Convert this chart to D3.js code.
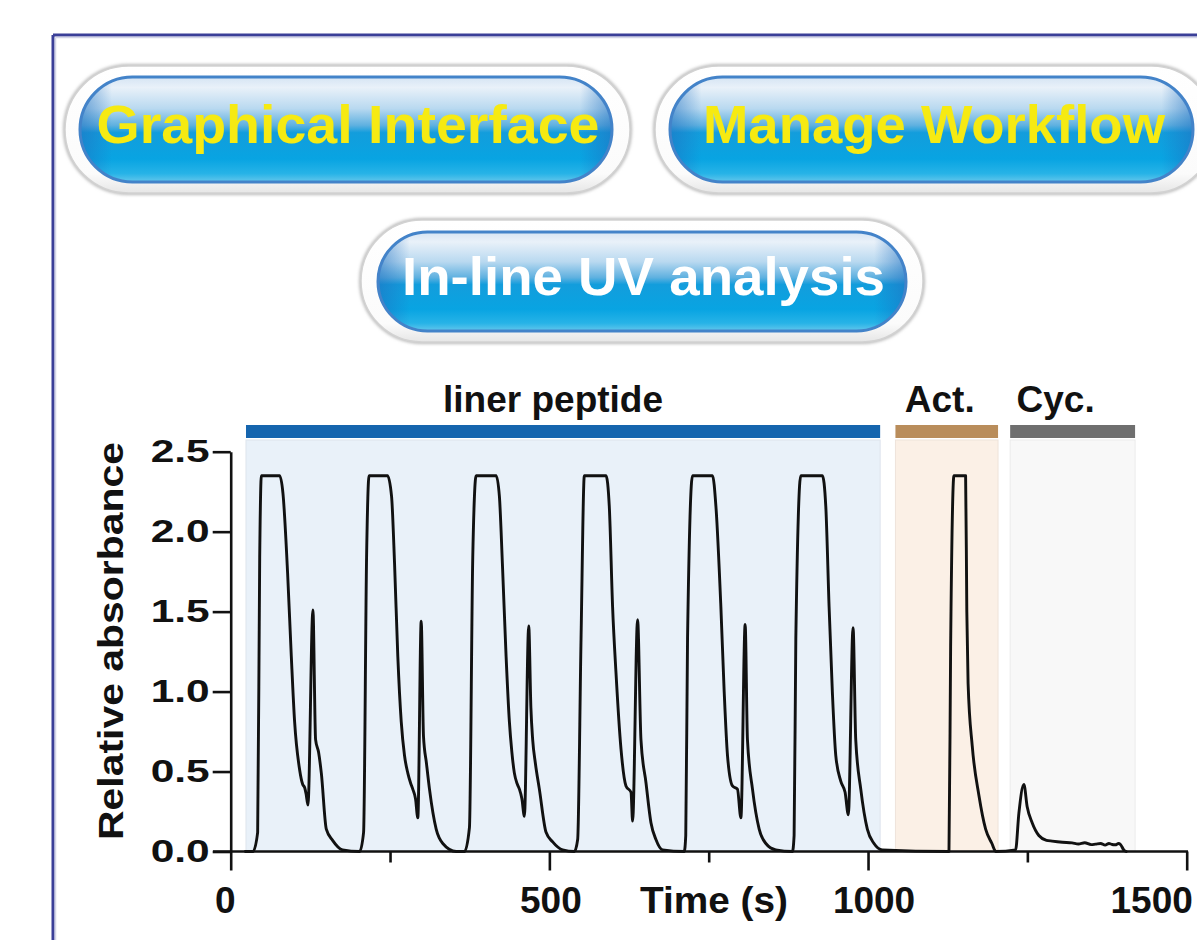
<!DOCTYPE html>
<html><head><meta charset="utf-8">
<script src="https://cdn.jsdelivr.net/npm/d3@7"></script>
<style>html,body{margin:0;padding:0;background:#fff;} svg{display:block;}</style>
</head><body>
<svg id="chart" width="1197" height="940"></svg>
<script>
// ---------------- data ----------------
const buttonLabels = ["Graphical Interface", "Manage Workflow", "In-line UV analysis"];
const buttonTextColors = ["#f6ea12", "#f6ea12", "#ffffff"];

const phaseNames = ["liner peptide", "Act.", "Cyc."];
const phaseStart = [24, 1043, 1223];     // s
const phaseEnd   = [1019, 1204, 1419];   // s
const phaseBarColors  = ["#1565ae", "#b98d5b", "#6f6f6f"];
const phaseFillColors = ["#e9f1f9", "#fbf0e6", "#f8f8f8"];

const xTicksMajor = [0, 500, 1000, 1500];
const xTicksMinor = [250, 750, 1250];
const yTicks = [0, 0.5, 1.0, 1.5, 2.0, 2.5];
const xTitle = "Time (s)";
const yTitle = "Relative absorbance";

// UV trace: time (s) and relative absorbance
const traceTime = [
  23,
  35, 42.3, 45.5, 48.1, 76.8, 82, 89.3, 95.1, 100.3, 108.2, 112.9, 116, 118.3, 121.2, 129, 133.2, 137.9, 142.2, 150, 159.9, 175.5,
  202.2, 208.5, 213.2, 217.1, 246.1, 252.4, 257.1, 262.2, 267.6, 272.7, 277.9, 282.1, 285.7, 290, 293.6, 298.9, 302.5, 307.2, 311.9, 322.4, 332.8, 353.8,
  366.8, 374.6, 379.8, 385.1, 416.5, 421.6, 426.3, 432.1, 437.3, 441.2, 445.1, 449.8, 453, 456.9, 460.8, 467.6, 471, 473.8, 478.1, 484.3, 494.8, 505.2, 520.8,
  539.2, 544.4, 549.7, 554.9, 588.9, 594, 599.2, 604.5, 612.4, 620.2, 628.1, 630.6, 638.4, 643.7, 651.6, 659.4, 667.2, 677.6,
  711.6, 714, 716.8, 724.6, 756, 761.3, 769.1, 774.3, 779.5, 787.3, 795.1, 800.5, 807.2, 810.8, 818.7, 829.2, 839.7, 855.3,
  881.4, 884, 886.7, 894.5, 928.4, 933.7, 938.9, 944, 949.4, 957.2, 964, 969.1, 976.5, 980.7, 988.6, 998.9, 1009.4, 1022.4,
  1127, 1129.6, 1134.8, 1153.1, 1155, 1157, 1163.5, 1174, 1184.5, 1194.4, 1200.6,
  1231.5, 1236.7, 1244.5, 1249.7, 1257.5, 1268, 1280, 1288.9, 1305, 1320.2, 1330, 1340, 1350, 1356.9, 1365, 1372, 1378, 1382.9, 1388, 1393, 1396.1, 1401.3, 1405
];
const traceAbs = [
  0,
  0, 0.12, 1.84, 2.35, 2.35, 2.24, 1.74, 1.22, 0.81, 0.51, 0.42, 0.40, 0.36, 0.29, 1.51, 0.70, 0.62, 0.49, 0.14, 0.07, 0.01,
  0, 0.12, 1.84, 2.35, 2.35, 2.22, 1.80, 1.22, 0.81, 0.60, 0.49, 0.43, 0.39, 0.33, 0.21, 1.44, 0.72, 0.55, 0.39, 0.14, 0.05, 0,
  0, 0.15, 1.84, 2.35, 2.35, 2.22, 1.80, 1.22, 0.81, 0.62, 0.49, 0.42, 0.39, 0.33, 0.22, 1.41, 0.90, 0.70, 0.55, 0.39, 0.12, 0.06, 0.01,
  0, 0.075, 1.33, 2.35, 2.35, 2.16, 1.53, 1.12, 0.64, 0.41, 0.37, 0.19, 1.45, 0.70, 0.43, 0.18, 0.075, 0.01,
  0, 0.1, 1.33, 2.35, 2.35, 2.16, 1.53, 1.00, 0.60, 0.41, 0.39, 0.21, 1.42, 0.70, 0.39, 0.14, 0.05, 0.01,
  0, 0.1, 1.33, 2.35, 2.35, 2.16, 1.53, 1.00, 0.60, 0.44, 0.37, 0.23, 1.40, 0.70, 0.39, 0.14, 0.05, 0.01,
  0, 1.28, 2.35, 2.35, 1.5, 1.05, 0.66, 0.35, 0.14, 0.05, 0,
  0.01, 0.24, 0.42, 0.28, 0.18, 0.10, 0.07, 0.065, 0.058, 0.054, 0.047, 0.055, 0.043, 0.046, 0.05, 0.04, 0.05, 0.044, 0.042, 0.05, 0.044, 0.01, 0
];

// ---------------- layout / style ----------------
const FONT = "'Liberation Sans', Arial, Helvetica, sans-serif";
const svg = d3.select("#chart");
const defs = svg.append("defs");

const x = d3.scaleLinear().domain([0, 1500]).range([230.7, 1186.7]);
const y = d3.scaleLinear().domain([0, 2.5]).range([851.5, 451.7]);

// frame
svg.append("line").attr("x1", 53).attr("y1", 35).attr("x2", 1197).attr("y2", 35)
  .attr("stroke", "#3b3f98").attr("stroke-width", 3);
svg.append("line").attr("x1", 53).attr("y1", 35).attr("x2", 53).attr("y2", 940)
  .attr("stroke", "#3b3f98").attr("stroke-width", 3);
svg.append("line").attr("x1", 55.5).attr("y1", 37.5).attr("x2", 1197).attr("y2", 37.5)
  .attr("stroke", "#d4d5e8").attr("stroke-width", 1.5);
svg.append("line").attr("x1", 55.5).attr("y1", 37.5).attr("x2", 55.5).attr("y2", 940)
  .attr("stroke", "#d4d5e8").attr("stroke-width", 1.5);

// button gradients
const g1 = defs.append("linearGradient").attr("id", "btnFill").attr("x1", 0).attr("y1", 0).attr("x2", 0).attr("y2", 1);
[[0, "#d5e4f3"], [0.1, "#e9f1f9"], [0.3, "#b9d9f0"], [0.46, "#5fb1e0"], [0.53, "#139ddc"],
 [0.78, "#08a4e2"], [0.92, "#27b3e7"], [1, "#63c7ec"]].forEach(s =>
  g1.append("stop").attr("offset", s[0]).attr("stop-color", s[1]));
const g2 = defs.append("linearGradient").attr("id", "btnSide").attr("x1", 0).attr("y1", 0).attr("x2", 1).attr("y2", 0);
[[0, "#1f6fc0", 0.55], [0.06, "#1f6fc0", 0], [0.94, "#1f6fc0", 0], [1, "#1f6fc0", 0.55]].forEach(s =>
  g2.append("stop").attr("offset", s[0]).attr("stop-color", s[1]).attr("stop-opacity", s[2]));
const g3 = defs.append("linearGradient").attr("id", "ringFill").attr("x1", 0).attr("y1", 0).attr("x2", 0).attr("y2", 1);
[[0, "#ffffff"], [0.85, "#fbfbfb"], [1, "#e6e6e6"]].forEach(s =>
  g3.append("stop").attr("offset", s[0]).attr("stop-color", s[1]));
const blur = defs.append("filter").attr("id", "soft").attr("x", -0.05).attr("y", -0.2).attr("width", 1.1).attr("height", 1.4);
blur.append("feGaussianBlur").attr("stdDeviation", 1.6);

const buttonBoxes = [
  {ox: 65, oy: 66, ow: 565, oh: 127, ix: 80, iy: 77, iw: 532, ih: 105, tx: 348, ty: 143, tl: 503},
  {ox: 655, oy: 66, ow: 560, oh: 127, ix: 670, iy: 77, iw: 523, ih: 105, tx: 934, ty: 143, tl: 462},
  {ox: 361, oy: 220, ow: 562, oh: 122, ix: 378, iy: 232, iw: 528, ih: 99, tx: 643.5, ty: 295, tl: 483}
];
buttonLabels.forEach((lab, i) => {
  const b = buttonBoxes[i];
  const g = svg.append("g");
  g.append("rect").attr("x", b.ox).attr("y", b.oy).attr("width", b.ow).attr("height", b.oh)
    .attr("rx", b.oh / 2).attr("fill", "none").attr("stroke", "#bdbdbd").attr("stroke-width", 4)
    .attr("filter", "url(#soft)");
  g.append("rect").attr("x", b.ox).attr("y", b.oy).attr("width", b.ow).attr("height", b.oh)
    .attr("rx", b.oh / 2).attr("fill", "url(#ringFill)").attr("stroke", "#d2d2d2").attr("stroke-width", 1.5);
  g.append("rect").attr("x", b.ix).attr("y", b.iy).attr("width", b.iw).attr("height", b.ih)
    .attr("rx", b.ih / 2).attr("fill", "url(#btnFill)");
  g.append("rect").attr("x", b.ix).attr("y", b.iy).attr("width", b.iw).attr("height", b.ih)
    .attr("rx", b.ih / 2).attr("fill", "url(#btnSide)").attr("stroke", "#4383c9").attr("stroke-width", 3);
  g.append("text").attr("x", b.tx).attr("y", b.ty).attr("text-anchor", "middle")
    .attr("font-family", FONT).attr("font-weight", "bold").attr("font-size", 53)
    .attr("textLength", b.tl).attr("lengthAdjust", "spacingAndGlyphs")
    .attr("fill", buttonTextColors[i]).text(lab);
});

// phase regions, bars, labels
const phaseLabelDx = [-10, -7, -17];
phaseNames.forEach((name, i) => {
  svg.append("rect").attr("x", x(phaseStart[i])).attr("y", 440)
    .attr("width", x(phaseEnd[i]) - x(phaseStart[i])).attr("height", y(0) - 440)
    .attr("fill", phaseFillColors[i]).attr("stroke", d3.color(phaseFillColors[i]).darker(0.15)).attr("stroke-width", 1);
  svg.append("rect").attr("x", x(phaseStart[i])).attr("y", 425)
    .attr("width", x(phaseEnd[i]) - x(phaseStart[i])).attr("height", 13)
    .attr("fill", phaseBarColors[i]);
  svg.append("text").attr("x", (x(phaseStart[i]) + x(phaseEnd[i])) / 2 + phaseLabelDx[i]).attr("y", 412)
    .attr("text-anchor", "middle").attr("font-family", FONT).attr("font-weight", "bold")
    .attr("font-size", 37).attr("fill", "#111").text(name);
});

// axes
const AX = "#111";
const yAxis = svg.append("g").attr("transform", `translate(${x(0)},0)`)
  .call(d3.axisLeft(y).tickValues(yTicks).tickSize(18).tickSizeOuter(0).tickPadding(3).tickFormat(d3.format(".1f")));
yAxis.selectAll("path,line").attr("stroke", AX).attr("stroke-width", 2.6);
yAxis.selectAll("text").attr("font-family", FONT).attr("font-weight", "bold").attr("font-size", 32)
  .attr("fill", AX).attr("textLength", 59).attr("lengthAdjust", "spacingAndGlyphs");

const xMajor = svg.append("g").attr("transform", `translate(0,${y(0)})`)
  .call(d3.axisBottom(x).tickValues(xTicksMajor).tickSize(19).tickSizeOuter(0).tickFormat(""));
xMajor.select(".domain").remove();
xMajor.selectAll("line").attr("stroke", AX).attr("stroke-width", 2.6);
const xMinor = svg.append("g").attr("transform", `translate(0,${y(0)})`)
  .call(d3.axisBottom(x).tickValues(xTicksMinor).tickSize(11).tickSizeOuter(0).tickFormat(""));
xMinor.select(".domain").remove();
xMinor.selectAll("line").attr("stroke", AX).attr("stroke-width", 2.6);
svg.append("line").attr("x1", 213).attr("x2", x(1500) + 1.3).attr("y1", y(0)).attr("y2", y(0))
  .attr("stroke", AX).attr("stroke-width", 2.6);

const xLabelDx = [-5.5, 1.5, 6, -35];
xTicksMajor.forEach((v, i) => {
  svg.append("text").attr("x", x(v) + xLabelDx[i]).attr("y", 913).attr("text-anchor", "middle")
    .attr("font-family", FONT).attr("font-weight", "bold").attr("font-size", 37).attr("fill", AX).text(v);
});
svg.append("text").attr("x", 714).attr("y", 913).attr("text-anchor", "middle")
  .attr("font-family", FONT).attr("font-weight", "bold").attr("font-size", 37).attr("fill", AX)
  .attr("textLength", 148).attr("lengthAdjust", "spacingAndGlyphs").text(xTitle);
svg.append("text").attr("transform", "translate(123,641) rotate(-90)").attr("text-anchor", "middle")
  .attr("font-family", FONT).attr("font-weight", "bold").attr("font-size", 35).attr("fill", AX)
  .attr("textLength", 398).attr("lengthAdjust", "spacingAndGlyphs").text(yTitle);

// trace
const pts = traceTime.map((t, i) => [t, traceAbs[i]]);
svg.append("path").datum(pts)
  .attr("d", d3.line().curve(d3.curveMonotoneX).x(d => x(d[0])).y(d => y(d[1])))
  .attr("fill", "none").attr("stroke", "#111").attr("stroke-width", 2.9)
  .attr("stroke-linejoin", "round").attr("stroke-linecap", "round");
</script>
</body></html>
